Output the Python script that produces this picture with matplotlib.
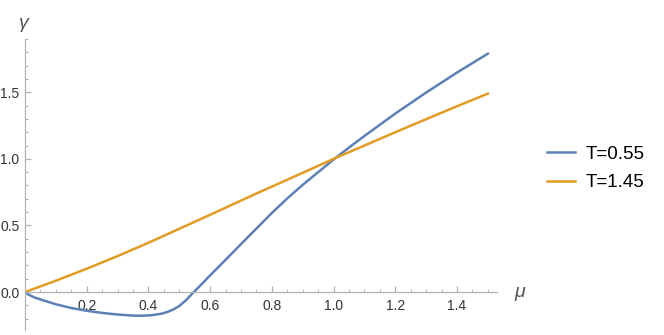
import numpy as np
import matplotlib.pyplot as plt
from matplotlib.ticker import MultipleLocator, FormatStrFormatter

plt.rcParams['font.family'] = ['Liberation Sans', 'DejaVu Sans']

# values
mu_low = [0, 0.01, 0.03, 0.05, 0.1, 0.15, 0.2, 0.25, 0.3, 0.35, 0.38, 0.41,
          0.44, 0.46, 0.48, 0.5, 0.52, 0.54, 0.56, 0.6, 0.65, 0.7, 0.76, 0.8,
          0.85, 0.9, 0.95, 1.0, 1.05, 1.1, 1.2, 1.3, 1.4, 1.5]
gamma_low = [0, -0.018, -0.04, -0.056, -0.092, -0.12, -0.141, -0.157, -0.169,
             -0.177, -0.178, -0.174, -0.164, -0.151, -0.132, -0.105, -0.065,
             -0.017, 0.03, 0.125, 0.242, 0.36, 0.5, 0.594, 0.703, 0.805, 0.9,
             0.995, 1.085, 1.172, 1.34, 1.498, 1.648, 1.79]

mu_high = [0, 0.1, 0.2, 0.3, 0.4, 0.5, 0.6, 0.75, 0.9, 1.0, 1.1, 1.2, 1.3,
           1.4, 1.5]
gamma_high = [0, 0.085, 0.175, 0.27, 0.37, 0.475, 0.58, 0.74, 0.895, 1.0,
              1.1, 1.2, 1.298, 1.395, 1.49]

labels = ['T=0.55', 'T=1.45']
colors = ['#5E81B5', '#E19C24']

fig = plt.figure(figsize=(6.64, 3.35), dpi=100)
ax = fig.add_axes([0.0377, 0.015, 0.711, 0.8686])

ax.plot(mu_low, gamma_low, color=colors[0], lw=1.8, label=labels[0],
        solid_joinstyle='round')
ax.plot(mu_high, gamma_high, color=colors[1], lw=1.8, label=labels[1],
        solid_joinstyle='round')

ax.set_xlim(0, 1.53)
ax.set_ylim(-0.285, 1.9)

axis_gray = '#b3b3b3'
ax.spines['left'].set_position(('data', 0))
ax.spines['bottom'].set_position(('data', 0))
ax.spines['right'].set_visible(False)
ax.spines['top'].set_visible(False)
for s in ['left', 'bottom']:
    ax.spines[s].set_color(axis_gray)
    ax.spines[s].set_linewidth(0.9)

ax.xaxis.set_major_locator(MultipleLocator(0.2))
ax.xaxis.set_minor_locator(MultipleLocator(0.05))
ax.yaxis.set_major_locator(MultipleLocator(0.5))
ax.yaxis.set_minor_locator(MultipleLocator(0.1))
ax.xaxis.set_major_formatter(FormatStrFormatter('%.1f'))
ax.yaxis.set_major_formatter(FormatStrFormatter('%.1f'))
ax.set_xticks([0.2, 0.4, 0.6, 0.8, 1.0, 1.2, 1.4])

ax.tick_params(axis='both', which='major', direction='in', length=4.5,
               width=0.9, color=axis_gray, labelsize=10, labelcolor='#333333')
ax.tick_params(axis='both', which='minor', direction='in', length=2.5,
               width=0.7, color=axis_gray)
ax.tick_params(axis='x', pad=5)
ax.tick_params(axis='y', pad=4)

ax.text(-0.005, 1.95, 'γ', fontsize=14, color='#555555',
        ha='center', va='bottom', style='italic')
ax.text(1.585, 0.0, 'μ', fontsize=14, color='#555555',
        ha='left', va='center', style='italic')

fig.legend(loc='center left', bbox_to_anchor=(0.798, 0.497), frameon=False,
           fontsize=13.5, handlelength=1.5, handletextpad=0.6, labelspacing=0.6)

fig.savefig('out.png', dpi=100)
